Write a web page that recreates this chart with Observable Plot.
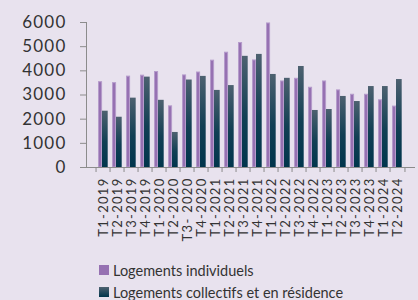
<!DOCTYPE html>
<html>
<head>
<meta charset="utf-8">
<script src="https://cdn.jsdelivr.net/npm/d3@7"></script>
<script src="https://cdn.jsdelivr.net/npm/@observablehq/plot@0.6"></script>
<style>
  html, body { margin: 0; padding: 0; background: #e8e2ee; overflow: hidden; }
  #wrap { position: relative; width: 418px; height: 300px; background: #e8e2ee; font-family: Lato, "Open Sans", sans-serif; color: #333; }
  #chart svg { display: block; }
  #chart [aria-label="x-axis tick label"] text { letter-spacing: 1.3px; }
  #chart [aria-label="y-axis tick label"] text { letter-spacing: 1.2px; }
  #legend { position: absolute; left: 99px; top: 259px; font-size: 14.5px; color: #333; }
  .item { display: flex; align-items: center; height: 22px; white-space: nowrap; }
  .sw { width: 10px; height: 10px; margin-right: 4px; flex: none; }
</style>
</head>
<body>
<div id="wrap">
  <div id="chart"></div>
  <div id="legend"></div>
</div>
<script>
const quarters = ["T1-2019","T2-2019","T3-2019","T4-2019","T1-2020","T2-2020","T3- 2020","T4-2020",
  "T1-2021","T2-2021","T3-2021","T4-2021","T1-2022","T2-2022","T3-2022","T4-2022",
  "T1-2023","T2-2023","T3-2023","T4-2023","T1-2024","T2-2024"];
const individuels = [3530,3490,3760,3800,3950,2530,3810,3930,4420,4750,5150,4430,5960,3560,3670,3300,3560,3190,3010,3010,2780,2520];
const collectifs = [2330,2080,2870,3740,2780,1450,3620,3770,3190,3390,4600,4680,3850,3690,4180,2360,2400,2940,2730,3350,3350,3640];
const seriesNames = ["Logements individuels", "Logements collectifs et en résidence"];
const yTicks = [0,1000,2000,3000,4000,5000,6000];

const rowsInd = quarters.map((q, i) => ({q, v: individuels[i]}));
const rowsCol = quarters.map((q, i) => ({q, v: collectifs[i]}));

const W = 418, H = 248, mL = 86, mR = 4, mT = 22, mB = 81;
const bw = (W - mL - mR) / quarters.length;
const plotH = H - mT - mB;
const purple = "#9671b2", purpleEdge = "#b59bcb";

const defs = () => {
  const d = d3.create("svg:defs");
  const g = d.append("linearGradient").attr("id", "tealGrad").attr("x1", 0).attr("y1", 0).attr("x2", 0).attr("y2", 1);
  g.append("stop").attr("offset", "0%").attr("stop-color", "#4d6170");
  g.append("stop").attr("offset", "55%").attr("stop-color", "#113f54");
  g.append("stop").attr("offset", "100%").attr("stop-color", "#00354c");
  return d.node();
};

const chart = Plot.plot({
  width: W, height: H,
  marginLeft: mL, marginRight: mR, marginTop: mT, marginBottom: mB,
  style: {background: "#e8e2ee", fontFamily: "Lato, 'Open Sans', sans-serif", color: "#333"},
  x: {domain: quarters, padding: 0, axis: null, label: null},
  y: {domain: [0, 6000], axis: null, label: null},
  marks: [
    defs,
    Plot.barY(rowsInd, {x: "q", y: "v", fill: purple, stroke: purpleEdge, strokeWidth: 1, insetLeft: 2.5, insetRight: bw - 6.5}),
    Plot.barY(rowsCol, {x: "q", y: "v", fill: "url(#tealGrad)", insetLeft: 6, insetRight: bw - 12.6}),
    Plot.frame({anchor: "left", stroke: "#8c8c8c"}),
    Plot.frame({anchor: "bottom", stroke: "#8c8c8c"}),
    Plot.ruleX(quarters, {x: d => d, dx: -bw / 2, stroke: "#8c8c8c", insetTop: plotH, insetBottom: -5}),
    Plot.ruleX(quarters.slice(-1), {x: d => d, dx: bw / 2, stroke: "#8c8c8c", insetTop: plotH, insetBottom: -5}),
    Plot.axisY(yTicks, {tickSize: 6, tickPadding: 14, fontSize: 17, stroke: "#8c8c8c", color: "#333", label: null, tickFormat: d3.format("d")}),
    Plot.axisX({tickSize: 0, tickPadding: 10, tickRotate: -90, fontSize: 13, color: "#333", label: null})
  ]
});
document.getElementById("chart").appendChild(chart);

const legend = document.getElementById("legend");
seriesNames.forEach((name, i) => {
  const it = document.createElement("div");
  it.className = "item";
  const sw = document.createElement("span");
  sw.className = "sw";
  sw.style.background = i === 0 ? purple : "linear-gradient(#4d6170, #00354c)";
  const t = document.createElement("span");
  t.textContent = name;
  it.appendChild(sw); it.appendChild(t);
  legend.appendChild(it);
});
</script>
</body>
</html>
